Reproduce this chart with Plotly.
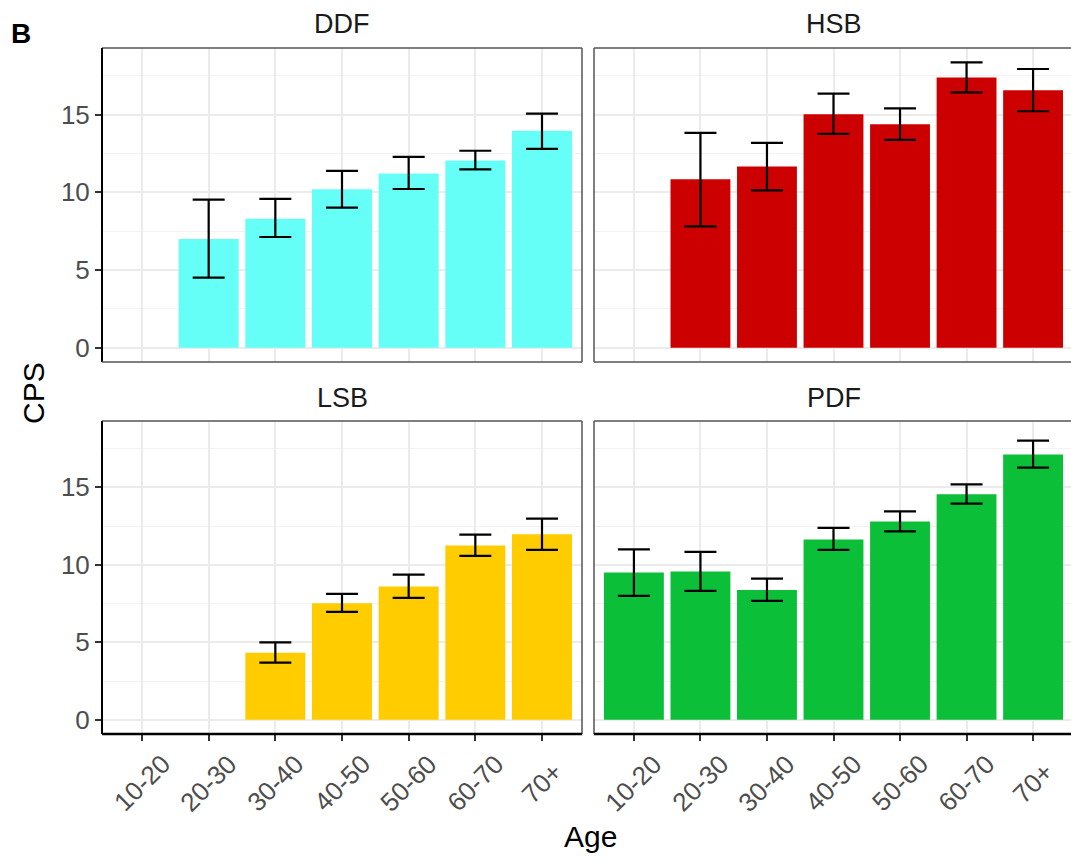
import plotly.graph_objects as go

W, H = 1071, 861

ages = ["10-20", "20-30", "30-40", "40-50", "50-60", "60-70", "70+"]
panels = ["DDF", "HSB", "LSB", "PDF"]

ddf_mean = [None, 7.0, 8.3, 10.2, 11.2, 12.05, 13.95]
ddf_hi = [None, 9.52, 9.58, 11.38, 12.28, 12.67, 15.06]
ddf_lo = [None, 4.51, 7.12, 9.01, 10.21, 11.47, 12.79]

hsb_mean = [None, 10.83, 11.66, 15.02, 14.38, 17.39, 16.56]
hsb_hi = [None, 13.82, 13.18, 16.35, 15.40, 18.36, 17.93]
hsb_lo = [None, 7.81, 10.12, 13.76, 13.37, 16.43, 15.21]

lsb_mean = [None, None, 4.32, 7.52, 8.60, 11.24, 11.97]
lsb_hi = [None, None, 4.99, 8.12, 9.37, 11.95, 12.98]
lsb_lo = [None, None, 3.68, 6.96, 7.87, 10.57, 10.96]

pdf_mean = [9.50, 9.56, 8.38, 11.63, 12.79, 14.55, 17.11]
pdf_hi = [11.00, 10.83, 9.11, 12.38, 13.45, 15.19, 18.01]
pdf_lo = [7.99, 8.32, 7.67, 10.96, 12.16, 13.95, 16.27]

colors = {"DDF": "#66FFF8", "HSB": "#CC0000", "LSB": "#FFCC00", "PDF": "#0CBF38"}

y_ticks = [0, 5, 10, 15]
y_minor = [2.5, 7.5, 12.5, 17.5]
y_range = [-0.92, 19.28]

data = {
    "DDF": (ddf_mean, ddf_hi, ddf_lo),
    "HSB": (hsb_mean, hsb_hi, hsb_lo),
    "LSB": (lsb_mean, lsb_hi, lsb_lo),
    "PDF": (pdf_mean, pdf_hi, pdf_lo),
}

def px_x(p):
    return p / W

def px_y(p):
    return 1 - p / H

col_dom = [[px_x(102), px_x(582)], [px_x(594), 1.0]]
row_dom = [[px_y(362), px_y(48)], [px_y(734), px_y(421)]]
x_ranges = [[-0.6, 6.6], [-0.6, 6.57]]

FONT = "Liberation Sans, Arial, Helvetica, sans-serif"
fig = go.Figure()
layout = dict(
    width=W, height=H, margin=dict(l=0, r=0, t=0, b=0),
    paper_bgcolor="white", plot_bgcolor="white", showlegend=False,
    bargap=0.1, font=dict(family=FONT),
)
shapes = []
annotations = []

for i, name in enumerate(panels):
    r, c = divmod(i, 2)
    idx = i + 1
    xa = "x" if idx == 1 else f"x{idx}"
    ya = "y" if idx == 1 else f"y{idx}"
    mean, hi, lo = data[name]
    plus = [None if m is None else h - m for m, h in zip(mean, hi)]
    minus = [None if m is None else m - l for m, l in zip(mean, lo)]
    fig.add_trace(go.Bar(
        x=ages, y=mean, marker=dict(color=colors[name], line=dict(width=0)),
        error_y=dict(type="data", symmetric=False, array=plus, arrayminus=minus,
                     color="black", thickness=2.2, width=16),
        xaxis=xa, yaxis=ya, hoverinfo="skip",
    ))
    xkey = "xaxis" if idx == 1 else f"xaxis{idx}"
    ykey = "yaxis" if idx == 1 else f"yaxis{idx}"
    bottom = (r == 1)
    left = (c == 0)
    layout[xkey] = dict(
        domain=col_dom[c], anchor=ya, range=x_ranges[c], type="category",
        categoryorder="array", categoryarray=ages,
        showgrid=True, gridcolor="#EBEBEB", gridwidth=1.6, zeroline=False,
        showline=False,
        ticks="outside" if bottom else "", ticklen=6, tickwidth=1.5, tickcolor="#333333",
        showticklabels=False,
    )
    layout[ykey] = dict(
        domain=row_dom[r], anchor=xa, range=y_range, tickvals=y_ticks,
        showgrid=True, gridcolor="#EBEBEB", gridwidth=1.6, zeroline=False,
        minor=dict(tickvals=y_minor, showgrid=True, gridcolor="#F2F2F2", gridwidth=0.8),
        showline=False,
        ticks="outside" if left else "", ticklen=6, tickwidth=1.5, tickcolor="#333333",
        showticklabels=left,
        tickfont=dict(size=26, color="#4D4D4D", family=FONT),
    )
    x0, x1 = col_dom[c]
    y0, y1 = row_dom[r]
    gray = "#555555"
    shapes.append(dict(type="line", xref="paper", yref="paper", x0=x0, x1=x1, y0=y1, y1=y1,
                       line=dict(color=gray, width=1.5), layer="above"))
    if c == 0:
        shapes.append(dict(type="line", xref="paper", yref="paper", x0=x1, x1=x1, y0=y0, y1=y1,
                           line=dict(color=gray, width=1.5), layer="above"))
    shapes.append(dict(type="line", xref="paper", yref="paper", x0=x0, x1=x0, y0=y0, y1=y1,
                       line=dict(color="black" if left else gray, width=2 if left else 1.5), layer="above"))
    shapes.append(dict(type="line", xref="paper", yref="paper", x0=x0, x1=x1, y0=y0, y1=y0,
                       line=dict(color="black" if bottom else gray, width=2.5 if bottom else 1.5), layer="above"))
    top_px = 48 if r == 0 else 421
    annotations.append(dict(text=name, xref="paper", yref="paper",
                            x=(x0 + (px_x(1073) if c == 1 else x1)) / 2, y=px_y(top_px - 23.5),
                            xanchor="center", yanchor="middle", showarrow=False,
                            font=dict(size=27, color="#1A1A1A", family=FONT)))
    if bottom:
        for a in ages:
            annotations.append(dict(text=a, xref=xa, yref="paper", x=a, y=px_y(783),
                                    xanchor="center", yanchor="middle", textangle=-45,
                                    showarrow=False,
                                    font=dict(size=26, color="#4D4D4D", family=FONT)))

annotations.append(dict(text="CPS", xref="paper", yref="paper", x=px_x(33), y=px_y(393),
                        xanchor="center", yanchor="middle", textangle=-90, showarrow=False,
                        font=dict(size=30, color="black", family=FONT)))
annotations.append(dict(text="Age", xref="paper", yref="paper", x=px_x(590), y=px_y(836),
                        xanchor="center", yanchor="middle", showarrow=False,
                        font=dict(size=30, color="black", family=FONT)))
annotations.append(dict(text="<b>B</b>", xref="paper", yref="paper", x=px_x(9), y=px_y(33),
                        xanchor="left", yanchor="middle", showarrow=False,
                        font=dict(size=28, color="black", family=FONT)))

layout["shapes"] = shapes
layout["annotations"] = annotations
fig.update_layout(**layout)
fig.write_html("out.html")
